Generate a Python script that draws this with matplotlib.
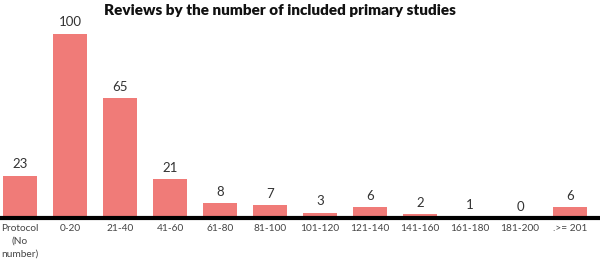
import matplotlib
matplotlib.use("Agg")
import matplotlib.pyplot as plt

categories = ["Protocol\n(No\nnumber)", "0-20", "21-40", "41-60", "61-80", "81-100",
              "101-120", "121-140", "141-160", "161-180", "181-200", ".>= 201"]
counts = [23, 100, 65, 21, 8, 7, 3, 6, 2, 1, 0, 6]

plt.rcParams['font.family'] = ['Lato', 'DejaVu Sans']

fig = plt.figure(figsize=(6.0, 2.59), dpi=100)
ax = fig.add_axes([0.0, 0.158, 1.0, 0.711])
x = list(range(len(categories)))
bars = ax.bar(x, counts, width=0.68, color="#F07B78", zorder=2)
for xi, v in zip(x, counts):
    ax.text(xi, v + 3, str(v), ha="center", va="bottom", fontsize=9.5, color="#333333")

ax.set_xlim(-0.4, 11.6)
ax.set_ylim(0, 100)
ax.set_xticks(x)
ax.set_xticklabels(categories, fontsize=7.3, color="#444444", linespacing=1.6)
ax.tick_params(axis="x", length=0, pad=4)
ax.set_yticks([])
for s in ["top", "right", "left"]:
    ax.spines[s].set_visible(False)
ax.spines["bottom"].set_linewidth(3)
ax.spines["bottom"].set_color("black")
ax.spines["bottom"].set_zorder(3)

fig.text(0.467, 0.96, "Reviews by the number of included primary studies",
         ha="center", va="center", fontsize=11, fontweight="heavy", color="#111111")

fig.savefig("out.png", dpi=100)
